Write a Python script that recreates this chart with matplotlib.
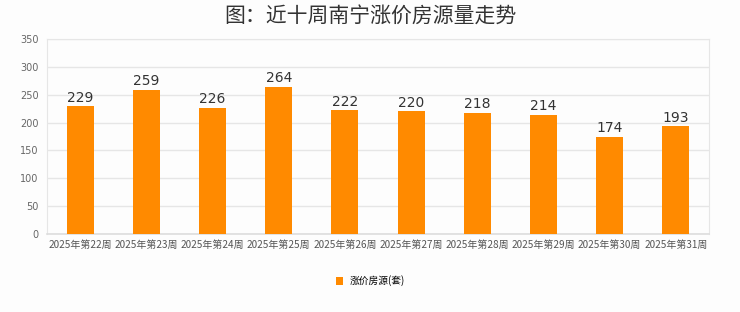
import matplotlib
matplotlib.use("Agg")
import matplotlib.pyplot as plt
from matplotlib.patches import Patch

plt.rcParams['font.family'] = ['Noto Sans CJK SC', 'DejaVu Sans']

categories = ["2025年第22周", "2025年第23周", "2025年第24周", "2025年第25周", "2025年第26周",
              "2025年第27周", "2025年第28周", "2025年第29周", "2025年第30周", "2025年第31周"]
values = [229, 259, 226, 264, 222, 220, 218, 214, 174, 193]
yticks = [0, 50, 100, 150, 200, 250, 300, 350]
series_name = "涨价房源(套)"
title = "图：近十周南宁涨价房源量走势"

bar_color = "#FF8A00"
bg = "#FDFDFD"

fig = plt.figure(figsize=(7.4, 3.12), dpi=100, facecolor=bg)
ax = fig.add_axes([47/740, 1 - 234/312, (709-47)/740, (234-39)/312], facecolor=bg)

x = list(range(len(categories)))
bars = ax.bar(x, values, width=0.41, color=bar_color, zorder=3)
for xi, v in zip(x, values):
    ax.text(xi, v + 3, str(v), ha='center', va='bottom', fontsize=10, color='#333333',
            family=['DejaVu Sans'], zorder=4)

ax.set_xlim(-0.5, len(categories) - 0.5)
ax.set_ylim(0, 350)
ax.set_yticks(yticks)
ax.set_yticklabels([str(t) for t in yticks], family=['DejaVu Sans'])
ax.set_xticks(x)
ax.set_xticklabels(categories, fontsize=7.2, color='#555555')
ax.tick_params(axis='y', labelsize=7, labelcolor='#666666', length=0, pad=6)
ax.tick_params(axis='x', length=0, pad=4)
ax.grid(axis='y', color='#E6E6E6', linewidth=1, zorder=0)
for s in ['top', 'right', 'left']:
    ax.spines[s].set_color('#E6E6E6')
ax.spines['bottom'].set_color('#DDDDDD')
ax.spines['bottom'].set_linewidth(1.2)

fig.text(0.5, 1 - 16/312, title, ha='center', va='center', fontsize=15, color='#333333')

leg = fig.legend(handles=[Patch(facecolor=bar_color, edgecolor='none')], labels=[series_name],
                 loc='center', bbox_to_anchor=(0.5, 1 - 281/312), frameon=False, fontsize=7,
                 handlelength=0.8, handleheight=0.8, handletextpad=0.6)

fig.savefig("out.png", dpi=100, facecolor=bg)
